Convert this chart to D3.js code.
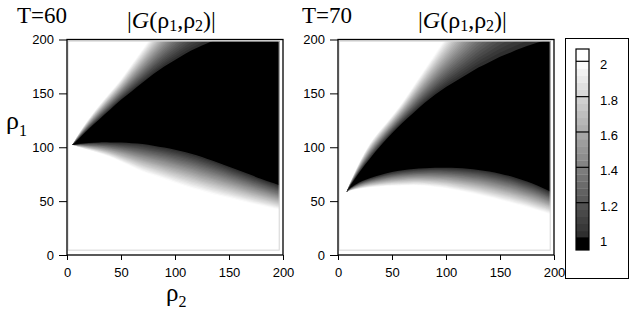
<!DOCTYPE html>
<html>
<head>
<meta charset="utf-8">
<script src="https://cdn.jsdelivr.net/npm/d3@7"></script>
<style>
  body { margin: 0; background: #fff; }
  .tick text { font-family: "Liberation Sans", Arial, sans-serif; font-size: 13px; fill: #000; }
  .tick line { stroke: #000; }
  .serif { font-family: "Liberation Serif", "Times New Roman", serif; fill: #000; }
</style>
</head>
<body>
<svg class="chart"></svg>
<script>
// boundaries of the |G| field (rho1 values per rho2 column)
const rho2T60 = [5, 10, 20, 30, 40, 50, 60, 70, 80, 90, 100, 110, 120, 130, 140, 150, 160, 170, 180, 190, 200];
const upperBlackT60 = [102, 107, 117, 126, 135, 144, 152, 160, 168, 175, 181, 187, 192, 196.5, 200.5, 204, 208, 212, 216, 219, 222];
const upperWhiteT60 = [102, 111, 126, 139, 151, 163, 177, 191, 205, 219, 233, 247, 261, 275, 289, 303, 317, 331, 345, 359, 373];
const lowerBlackT60 = [102, 103, 104, 104.5, 104.5, 104.3, 103.8, 103, 101.5, 99.8, 97.7, 95.3, 92.5, 89.2, 85.7, 82, 78.2, 74.4, 70.6, 67, 63.5];
const lowerWhiteT60 = [102, 100.5, 97.5, 94.5, 91, 86.5, 82, 77.5, 74, 70.5, 67, 63.8, 60.7, 57.8, 55.2, 52.8, 50.4, 48, 45.8, 43.6, 41.4];

const rho2T70 = [8, 10, 20, 30, 40, 50, 60, 70, 80, 90, 100, 110, 120, 130, 140, 150, 160, 170, 180, 190, 200];
const upperBlackT70 = [58.5, 62, 77, 90, 102, 113, 123, 132, 141, 149, 156, 162, 168, 174, 179, 184, 188, 192, 195.5, 198.5, 201.5];
const upperWhiteT70 = [58.5, 64, 86, 104, 117, 129, 142, 157, 172, 187, 202, 217, 232, 247, 262, 277, 292, 307, 322, 337, 352];
const lowerBlackT70 = [58.5, 61, 67.5, 71.5, 74.5, 77, 78.7, 79.8, 80.5, 81, 81, 80.7, 80, 79, 77.5, 75.5, 73, 69.8, 66.3, 62, 57];
const lowerWhiteT70 = [58.5, 59.5, 61.5, 62.8, 63.6, 64.2, 64.5, 64.8, 64.3, 63.2, 62, 60, 58, 56, 53.5, 51, 48.5, 45.8, 43, 40, 37];

const axisTicks = [0, 50, 100, 150, 200];
const barTicks = [1, 1.2, 1.4, 1.6, 1.8, 2];
const barLabels = ["1", "1.2", "1.4", "1.6", "1.8", "2"];
const levels = d3.range(0, 26).map(i => 1 + i / 25);

const panels = [
  {T: "T=60", left: 67, tX: 17, gX: 127, x: rho2T60, ub: upperBlackT60, uw: upperWhiteT60, lb: lowerBlackT60, lw: lowerWhiteT60},
  {T: "T=70", left: 338, tX: 302, gX: 418, x: rho2T70, ub: upperBlackT70, uw: upperWhiteT70, lb: lowerBlackT70, lw: lowerWhiteT70}
];

const width = 632, height = 313,
  plotW = 216, plotTop = 39.5, plotBottom = 255;

const gray = d3.scaleLinear().domain([1, 2]).range(["#2b2b2b", "#ffffff"]);

const svg = d3.select(".chart")
  .attr("width", width)
  .attr("height", height);

panels.forEach((p, pi) => {
  const x = d3.scaleLinear().domain([0, 200]).range([p.left, p.left + plotW]);
  const y = d3.scaleLinear().domain([0, 200]).range([plotBottom, plotTop]);

  const clipId = "clip" + pi;
  svg.append("clipPath").attr("id", clipId)
    .append("rect")
      .attr("x", x(1)).attr("y", y(198.5))
      .attr("width", x(196.5) - x(1))
      .attr("height", y(4.5) - y(198.5));

  const g = svg.append("g").attr("clip-path", `url(#${clipId})`);

  g.append("rect")
    .attr("x", x(0)).attr("y", y(200))
    .attr("width", plotW).attr("height", plotBottom - plotTop)
    .attr("fill", "#fff");

  const idx = d3.range(p.x.length);
  const area = v => d3.area()
    .x(i => x(p.x[i]))
    .y0(i => y(p.lb[i] - (p.lb[i] - p.lw[i]) * (v - 1)))
    .y1(i => y(p.ub[i] + (p.uw[i] - p.ub[i]) * (v - 1)))
    .curve(d3.curveCatmullRom)(idx);

  // filled contours, lightest first
  levels.slice(1).reverse().forEach(v => {
    g.append("path")
      .attr("d", area(v))
      .attr("fill", gray(v - 0.02));
  });
  g.append("path")
    .attr("d", area(1))
    .attr("fill", "#000");

  svg.append("rect")
    .attr("x", x(1)).attr("y", y(198.5))
    .attr("width", x(196.5) - x(1))
    .attr("height", y(4.5) - y(198.5))
    .attr("fill", "none")
    .attr("stroke", "#d4d4d4");

  svg.append("rect")
    .attr("x", x(0)).attr("y", y(200))
    .attr("width", plotW).attr("height", plotBottom - plotTop)
    .attr("fill", "none")
    .attr("stroke", "#000")
    .attr("stroke-width", 1.3);

  svg.append("g")
    .attr("transform", `translate(${x(0)},0)`)
    .call(d3.axisLeft(y).tickValues(axisTicks).tickSize(8).tickPadding(5))
    .call(a => a.select(".domain").remove());

  svg.append("g")
    .attr("transform", `translate(0,${plotBottom})`)
    .call(d3.axisBottom(x).tickValues(axisTicks).tickSize(5).tickPadding(8))
    .call(a => a.select(".domain").remove());

  svg.append("text").attr("class", "serif")
    .attr("x", p.tX).attr("y", 23)
    .style("font-size", "23px")
    .text(p.T);

  const gt = svg.append("text").attr("class", "serif")
    .attr("x", p.gX).attr("y", 28)
    .style("font-size", "24px");
  gt.append("tspan").text("|");
  gt.append("tspan").style("font-style", "italic").text("G");
  gt.append("tspan").text("(ρ");
  gt.append("tspan").style("font-size", "16px").attr("dy", 3).text("1");
  gt.append("tspan").attr("dy", -3).text(",ρ");
  gt.append("tspan").style("font-size", "16px").attr("dy", 3).text("2");
  gt.append("tspan").attr("dy", -3).text(")|");
});

// axis labels
const yl = svg.append("text").attr("class", "serif")
  .attr("x", 6).attr("y", 129)
  .style("font-size", "26px");
yl.append("tspan").text("ρ");
yl.append("tspan").style("font-size", "16px").attr("dy", 7).text("1");

const xl = svg.append("text").attr("class", "serif")
  .attr("x", 166).attr("y", 301)
  .style("font-size", "25px");
xl.append("tspan").text("ρ");
xl.append("tspan").style("font-size", "16px").attr("dy", 6).text("2");

// colour bar
const bar = {x: 576, w: 13, top: 49, bottom: 250};
const cy = d3.scaleLinear().domain([1, 2]).range([238, 61.3]);

svg.append("rect")
  .attr("x", 565.5).attr("y", 38.5)
  .attr("width", 63).attr("height", 240)
  .attr("fill", "none").attr("stroke", "#000");

const cb = svg.append("g");
cb.append("rect")
  .attr("x", bar.x).attr("y", bar.top)
  .attr("width", bar.w).attr("height", cy(2) - bar.top)
  .attr("fill", "#fff");
cb.selectAll("rect.band")
  .data(levels.slice(0, -1))
  .enter()
  .append("rect")
    .attr("class", "band")
    .attr("x", bar.x)
    .attr("y", v => cy(v + 0.04))
    .attr("width", bar.w)
    .attr("height", v => cy(v) - cy(v + 0.04) + 0.3)
    .attr("fill", v => gray(v + 0.02));
cb.append("rect")
  .attr("x", bar.x).attr("y", cy(1))
  .attr("width", bar.w).attr("height", bar.bottom - cy(1))
  .attr("fill", "#000");
cb.selectAll("line.major")
  .data(barTicks)
  .enter()
  .append("line")
    .attr("class", "major")
    .attr("x1", bar.x).attr("x2", bar.x + bar.w)
    .attr("y1", v => cy(v)).attr("y2", v => cy(v))
    .attr("stroke", "#000").attr("stroke-width", 1.2);
cb.append("rect")
  .attr("x", bar.x).attr("y", bar.top)
  .attr("width", bar.w).attr("height", bar.bottom - bar.top)
  .attr("fill", "none").attr("stroke", "#000").attr("stroke-width", 1.2);
cb.selectAll("text")
  .data(barTicks)
  .enter()
  .append("text")
    .attr("x", 600)
    .attr("y", v => cy(v) + 8)
    .style("font-family", "'Liberation Sans', Arial, sans-serif")
    .style("font-size", "13px")
    .text((v, i) => barLabels[i]);
</script>
</body>
</html>
